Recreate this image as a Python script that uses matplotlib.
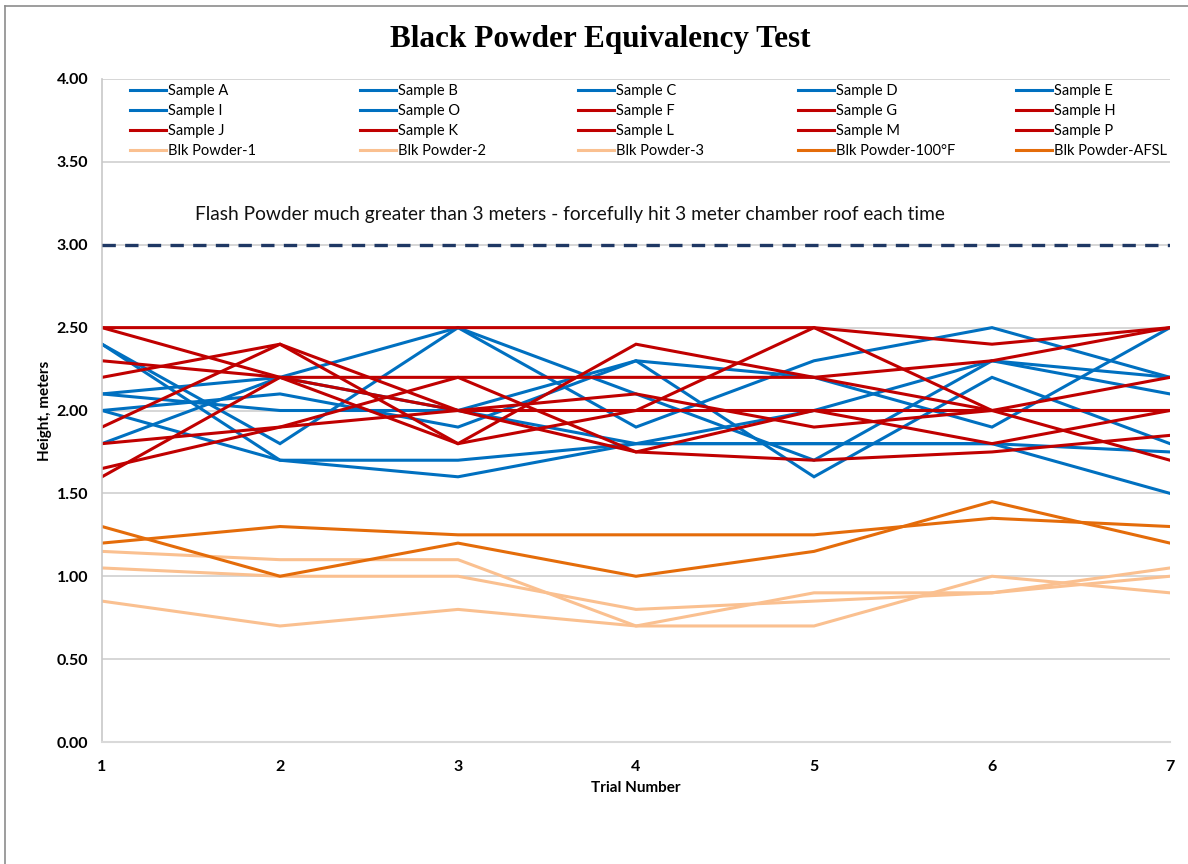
import matplotlib
matplotlib.use("Agg")
import matplotlib.pyplot as plt
from matplotlib.lines import Line2D

trials = [1, 2, 3, 4, 5, 6, 7]

# Blue series
sample_a = [2.4, 1.7, 1.7, 1.8, 2.0, 2.3, 2.2]
sample_b = [2.4, 1.8, 2.5, 2.1, 1.7, 2.3, 2.1]
sample_c = [2.1, 2.2, 2.5, 1.9, 2.3, 2.5, 2.2]
sample_d = [2.1, 2.0, 2.0, 1.8, 1.8, 1.8, 1.5]
sample_e = [2.0, 1.7, 1.6, 1.8, 1.8, 1.8, 1.75]
sample_i = [1.8, 2.2, 2.0, 2.3, 2.2, 1.9, 2.5]
sample_o = [2.0, 2.1, 1.9, 2.3, 1.6, 2.2, 1.8]
# Red series
sample_f = [2.5, 2.5, 2.5, 2.5, 2.5, 2.4, 2.5]
sample_g = [2.5, 2.2, 2.0, 1.75, 1.7, 1.75, 1.85]
sample_h = [2.3, 2.2, 2.2, 2.2, 2.2, 2.0, 2.0]
sample_j = [2.2, 2.4, 2.0, 2.1, 1.9, 2.0, 2.0]
sample_k = [1.9, 2.4, 1.8, 2.4, 2.2, 2.3, 2.5]
sample_l = [1.8, 1.9, 2.2, 1.75, 2.0, 2.0, 1.7]
sample_m = [1.65, 1.9, 2.0, 2.0, 2.5, 2.0, 2.2]
sample_p = [1.6, 2.2, 1.8, 2.0, 2.0, 1.8, 2.0]
# Black powder series
blk_1 = [1.15, 1.1, 1.1, 0.7, 0.9, 0.9, 1.05]
blk_2 = [1.05, 1.0, 1.0, 0.8, 0.85, 0.9, 1.0]
blk_3 = [0.85, 0.7, 0.8, 0.7, 0.7, 1.0, 0.9]
blk_100f = [1.3, 1.0, 1.2, 1.0, 1.15, 1.45, 1.2]
blk_afsl = [1.2, 1.3, 1.25, 1.25, 1.25, 1.35, 1.3]

flash_level = 3.0

BLUE = "#0070C0"
RED = "#C00000"
LIGHT = "#FAC090"
DARK = "#E46C0A"

series = [
    ("Sample A", sample_a, BLUE), ("Sample B", sample_b, BLUE),
    ("Sample C", sample_c, BLUE), ("Sample D", sample_d, BLUE),
    ("Sample E", sample_e, BLUE), ("Sample I", sample_i, BLUE),
    ("Sample O", sample_o, BLUE), ("Sample F", sample_f, RED),
    ("Sample G", sample_g, RED), ("Sample H", sample_h, RED),
    ("Sample J", sample_j, RED), ("Sample K", sample_k, RED),
    ("Sample L", sample_l, RED), ("Sample M", sample_m, RED),
    ("Sample P", sample_p, RED), ("Blk Powder-1", blk_1, LIGHT),
    ("Blk Powder-2", blk_2, LIGHT), ("Blk Powder-3", blk_3, LIGHT),
    ("Blk Powder-100°F", blk_100f, DARK), ("Blk Powder-AFSL", blk_afsl, DARK),
]

plt.rcParams['font.family'] = ['Lato', 'DejaVu Sans']

W, H = 1188, 864
fig = plt.figure(figsize=(W/100, H/100), dpi=100)
ax = fig.add_axes([102/W, 1 - 742/H, (1170 - 102)/W, (742 - 79)/H])

handles = []
for name, vals, col in series:
    h, = ax.plot(trials, vals, color=col, lw=2.2, solid_joinstyle='miter', label=name)
    handles.append(h)

ax.axhline(flash_level, color="#1F3864", lw=2.4, ls=(0, (4, 2.8)), zorder=5)
ax.text(1.52, 3.18, "Flash Powder much greater than 3 meters - forcefully hit 3 meter chamber roof each time",
        fontsize=13.8, color="#111111", va='center', ha='left')

yt = [0, 0.5, 1.0, 1.5, 2.0, 2.5, 3.0, 3.5, 4.0]
ax.set_xlim(1, 7)
ax.set_ylim(0, 4)
ax.set_yticks(yt)
ax.set_yticklabels([f"{v:.2f}" for v in yt], fontweight='bold', fontsize=11.5)
ax.set_xticks(trials)
ax.set_xticklabels([str(t) for t in trials], fontweight='bold', fontsize=11.5)
ax.tick_params(length=0)
ax.tick_params(axis='x', pad=13)
ax.tick_params(axis='y', pad=10)
ax.grid(axis='y', color="#D0D0D0", lw=1.2)
ax.set_axisbelow(True)
for s in ['top', 'right']:
    ax.spines[s].set_visible(False)
ax.spines['left'].set_color("#C8C8C8")
ax.spines['bottom'].set_color("#D9D9D9")
ax.spines['left'].set_linewidth(1.2)
ax.spines['bottom'].set_linewidth(1.5)

ax.set_xlabel("Trial Number", fontweight='bold', fontsize=11, labelpad=5)
ax.set_ylabel("Height, meters", fontweight='bold', fontsize=11, labelpad=3)

fig.text(600/W, 1 - 40/H, "Black Powder Equivalency Test", ha='center', va='center',
         fontsize=22.5, fontweight='bold', family='Liberation Serif')

# legend: 5 columns placed at fixed x positions, row-major order
ncol = 5
nrow = 4
col_x = [121, 351, 569, 789, 1007]
for c in range(ncol):
    idx = [r * ncol + c for r in range(nrow)]
    x0 = (col_x[c] - 102) / (1170 - 102)
    leg = ax.legend([handles[i] for i in idx], [series[i][0] for i in idx],
                    loc='upper left', bbox_to_anchor=(x0, 1.0 + 4/663),
                    frameon=False, fontsize=10.5, handlelength=2.5, handletextpad=0.15,
                    labelspacing=0.42, borderaxespad=0.3, borderpad=0.3)
    if c < ncol - 1:
        ax.add_artist(leg)

# chart border
fig.add_artist(Line2D([5/W, 5/W], [0, 1 - 6/H], transform=fig.transFigure,
                      color="#8C8C8C", lw=1.2))
fig.add_artist(Line2D([5/W, 1], [1 - 6/H, 1 - 6/H], transform=fig.transFigure,
                      color="#8C8C8C", lw=1.2))

fig.savefig("out.png", dpi=100, facecolor='white')
